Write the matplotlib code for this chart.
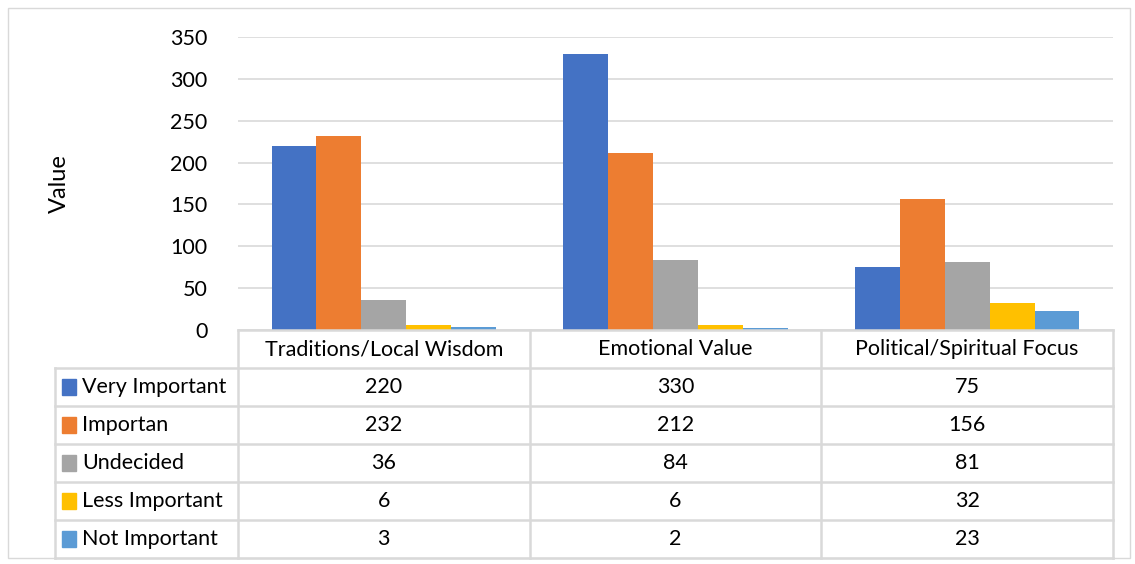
import numpy as np
import matplotlib.pyplot as plt
from matplotlib.patches import Rectangle

# dados do grafico
categorias = ['Traditions/Local Wisdom', 'Emotional Value', 'Political/Spiritual Focus']
series = ['Very Important', 'Importan', 'Undecided', 'Less Important', 'Not Important']
very_important = [220, 330, 75]
importan = [232, 212, 156]
undecided = [36, 84, 81]
less_important = [6, 6, 32]
not_important = [3, 2, 23]
valores = [very_important, importan, undecided, less_important, not_important]
cores = ['#4472C4', '#ED7D31', '#A5A5A5', '#FFC000', '#5B9BD5']
yticks = [0, 50, 100, 150, 200, 250, 300, 350]

plt.rcParams['font.family'] = ['Lato', 'DejaVu Sans']
W, H = 1135, 564
fig = plt.figure(figsize=(W / 100, H / 100), dpi=100)
grade = '#D9D9D9'
fs = 15.5

# borda externa do grafico
fig.patches.append(Rectangle((8 / W, 6 / H), 1122 / W, 550 / H, transform=fig.transFigure,
                             fill=False, edgecolor=grade, lw=1))

# eixo das barras
ax = fig.add_axes([238 / W, (H - 330) / H, 875 / W, (330 - 37) / H])
x = np.arange(len(categorias))
largura = 0.154
for i, (nome, vals) in enumerate(zip(series, valores)):
    ax.bar(x + (i - 2) * largura, vals, largura, color=cores[i], label=nome, zorder=3)
ax.set_xlim(-0.5, len(categorias) - 0.5)
ax.set_ylim(0, 350)
ax.set_yticks(yticks)
ax.set_xticks([])
ax.tick_params(axis='y', length=0, labelsize=fs, pad=22)
ax.grid(axis='y', color=grade, lw=1.2, zorder=0)
for s in ax.spines.values():
    s.set_visible(False)
ax.set_ylabel('Value', fontsize=17)
ax.yaxis.set_label_coords((70 - 238) / 875, 0.5)

# tabela de dados
tax = fig.add_axes([238 / W, 6 / H, 875 / W, (558 - 330) / H])
tax.set_xlim(-0.5, len(categorias) - 0.5)
n_lin = len(series) + 1
tax.set_ylim(n_lin, 0)
tax.axis('off')
esq = -0.5 - (238 - 55) / (875 / 3)
lw_t = 1.8
tax.plot([-0.5, 2.5], [0, 0], color=grade, lw=lw_t, clip_on=False)
for r in range(1, n_lin + 1):
    tax.plot([esq, 2.5], [r, r], color=grade, lw=lw_t, clip_on=False)
for c in range(len(categorias) + 1):
    tax.plot([c - 0.5, c - 0.5], [0, n_lin], color=grade, lw=lw_t, clip_on=False)
tax.plot([esq, esq], [1, n_lin], color=grade, lw=lw_t, clip_on=False)

for c, cat in enumerate(categorias):
    tax.text(c, 0.5, cat, ha='center', va='center', fontsize=fs)
for r, (nome, vals) in enumerate(zip(series, valores)):
    y = r + 1.5
    tax.add_patch(Rectangle((esq + 0.025, y - 0.2), 0.047, 0.4, color=cores[r], clip_on=False))
    tax.text(esq + 0.093, y, nome, ha='left', va='center', fontsize=fs)
    for c, v in enumerate(vals):
        tax.text(c, y, str(v), ha='center', va='center', fontsize=fs)

plt.savefig('out.png', dpi=100)
